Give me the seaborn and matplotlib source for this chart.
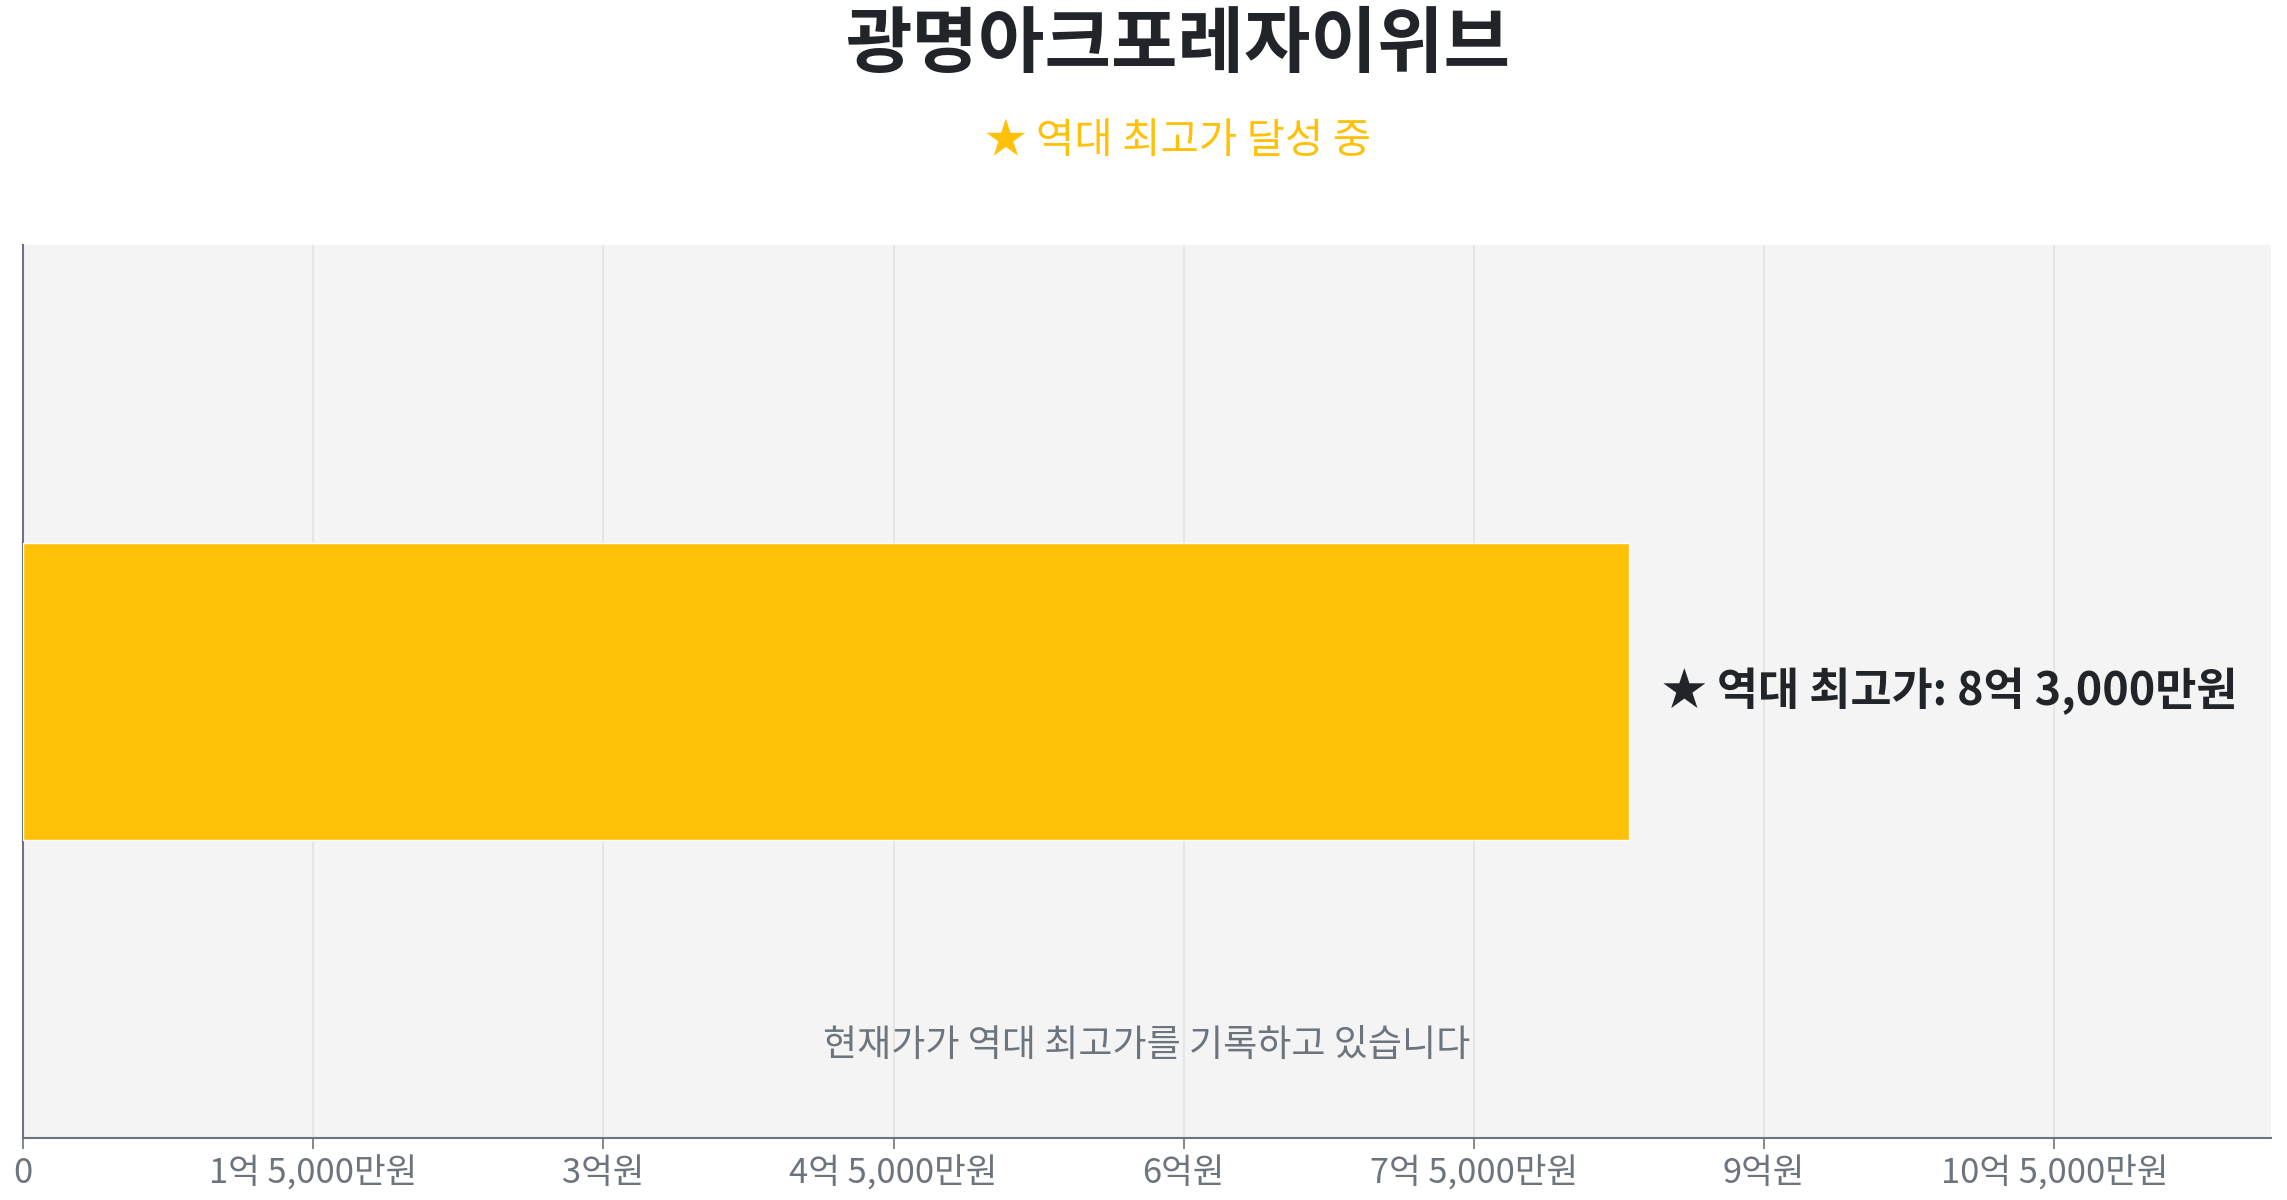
import matplotlib
matplotlib.use("Agg")
import matplotlib.pyplot as plt
import seaborn as sns
import pandas as pd
from matplotlib.ticker import FixedLocator, FuncFormatter

# ---- data ----
apartment = ["광명아크포레자이위브"]
record_high = [830000000]          # 8억 3,000만원
tick_values = [0, 150000000, 300000000, 450000000, 600000000,
               750000000, 900000000, 1050000000]
title_text = "광명아크포레자이위브"
subtitle_text = "★ 역대 최고가 달성 중"
bar_label_text = "★ 역대 최고가: 8억 3,000만원"
note_text = "현재가가 역대 최고가를 기록하고 있습니다"

df = pd.DataFrame({"name": apartment, "price": record_high})

sns.set_theme(style="white")
plt.rcParams["font.family"] = ["Noto Sans CJK KR", "DejaVu Sans"]

BAR = "#FFC107"
DARK = "#212529"
GRAY = "#6c757d"
BG = "#f4f4f4"

fig = plt.figure(figsize=(22.87, 12), dpi=100)
ax = fig.add_axes([0.0101, 0.0517, 0.9829, 0.7442])
ax.set_facecolor(BG)

sns.barplot(data=df, x="price", y="name", orient="h", color=BAR,
            width=0.8, saturation=1, ax=ax, zorder=3)

xmax = record_high[0] * 1.4
ax.set_xlim(0, xmax)
ax.set_ylim(1.2, -1.2)


def fmt(v, pos=None):
    v = int(round(v))
    if v == 0:
        return "0"
    eok = v // 100000000
    man = (v % 100000000) // 10000
    parts = []
    if eok:
        parts.append(f"{eok}억")
    if man:
        parts.append(f"{man:,}만원")
        return " ".join(parts)
    return parts[0] + "원"


ax.xaxis.set_major_locator(FixedLocator(tick_values))
ax.xaxis.set_major_formatter(FuncFormatter(fmt))
ax.grid(axis="x", color="#e2e2e2", linewidth=1.2, zorder=0)
ax.set_axisbelow(True)
ax.set_xlabel("")
ax.set_ylabel("")
ax.set_yticks([])

for s in ["top", "right"]:
    ax.spines[s].set_visible(False)
for s in ["left", "bottom"]:
    ax.spines[s].set_color(GRAY)
    ax.spines[s].set_linewidth(1.5)

ax.tick_params(axis="x", colors=GRAY, labelcolor=GRAY, labelsize=24.8,
               length=8, width=1.2, pad=5, direction="out")
ax.tick_params(axis="x", which="both", bottom=True)

# label next to bar
ax.text(record_high[0] + xmax * 0.015, 0, bar_label_text,
        ha="left", va="center", fontsize=32.2, fontweight="bold", color=DARK)

# note inside plot
ax.text(0.5, 0.103, note_text, transform=ax.transAxes,
        ha="center", va="center", fontsize=26.7, color=GRAY)

fig.text(0.515, 0.962, title_text, ha="center", va="center",
         fontsize=52, fontweight="bold", color=DARK)
fig.text(0.515, 0.882, subtitle_text, ha="center", va="center",
         fontsize=30, color=BAR)

fig.savefig("out.png", dpi=100, facecolor="white")
